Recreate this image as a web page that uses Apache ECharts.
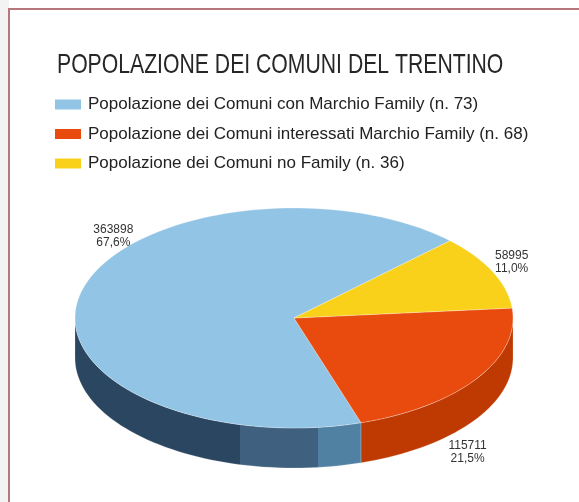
<!DOCTYPE html>
<html>
<head>
<meta charset="utf-8">
<script src="https://cdn.jsdelivr.net/npm/echarts@6/dist/echarts.min.js"></script>
<style>
  html, body { margin: 0; padding: 0; background: #fff; }
  #main { width: 579px; height: 502px; }
</style>
</head>
<body>
<div id="main"></div>
<script>
var titleText = 'POPOLAZIONE DEI COMUNI DEL TRENTINO';
var categories = [
  'Popolazione dei Comuni con Marchio Family (n. 73)',
  'Popolazione dei Comuni interessati Marchio Family (n. 68)',
  'Popolazione dei Comuni no Family (n. 36)'
];
var values = [363898, 115711, 58995];

var colors = ['#92c4e6', '#e94b0e', '#f9d11b'];
var sideColors = [
  {
    type: 'linear', x: 75, y: 0, x2: 362, y2: 0, global: true,
    colorStops: [
      { offset: 0, color: '#2a4661' }, { offset: 0.575, color: '#2a4661' },
      { offset: 0.575, color: '#3f617f' }, { offset: 0.847, color: '#3f617f' },
      { offset: 0.847, color: '#5081a3' }, { offset: 1, color: '#5081a3' }
    ]
  },
  '#bf3a02',
  '#c9a10f'
];
// spostamento delle etichette rispetto al bordo della fetta
var labelShift = [[32, -56], [-9, 73], [19, -10]];

var total = values.reduce(function (s, v) { return s + v; }, 0);
var startAngle = 44.6;
var cx = 294, cy = 318, rx = 219, ry = 110, depth = 40;

function pt(a, dy) {
  var r = a * Math.PI / 180;
  return [cx + rx * Math.cos(r), cy - ry * Math.sin(r) + dy];
}

function arc(a0, a1, dy) {
  var pts = [];
  var n = Math.max(2, Math.ceil(Math.abs(a1 - a0) / 2));
  for (var k = 0; k <= n; k++) {
    pts.push(pt(a0 + (a1 - a0) * k / n, dy));
  }
  return pts;
}

function renderSlice(params, api) {
  var i = params.seriesIndex;
  var before = 0;
  for (var j = 0; j < i; j++) before += values[j];
  var v = api.value(0);
  var a0 = startAngle + before / total * 360;
  var a1 = a0 + v / total * 360;
  var children = [];

  // faccia superiore
  children.push({
    type: 'polygon',
    z2: 10,
    shape: { points: [[cx, cy]].concat(arc(a0, a1, 0)) },
    style: { fill: colors[i], stroke: 'rgba(255,255,255,0.35)', lineWidth: 0.8 }
  });

  // lato visibile (metà anteriore)
  [[180, 360], [540, 720]].forEach(function (rg) {
    var s = Math.max(a0, rg[0]), e = Math.min(a1, rg[1]);
    if (e > s) {
      var top = arc(s, e, 0);
      var bottom = arc(e, s, depth);
      children.push({
        type: 'polygon',
        z2: 1,
        shape: { points: top.concat(bottom) },
        style: { fill: sideColors[i], stroke: 'rgba(255,255,255,0.25)', lineWidth: 0.8 }
      });
    }
  });

  // etichetta
  var mid = (a0 + a1) / 2;
  var p = pt(mid, 0);
  var pct = (v / total * 100).toFixed(1).replace('.', ',');
  children.push({
    type: 'text',
    z2: 20,
    x: p[0] + labelShift[i][0],
    y: p[1] + labelShift[i][1],
    style: {
      text: v + '\n' + pct + '%',
      fill: '#333',
      font: '12px "Liberation Sans", Arial, sans-serif',
      lineHeight: 13,
      align: 'center',
      verticalAlign: 'middle'
    }
  });

  return { type: 'group', children: children };
}

var chart = echarts.init(document.getElementById('main'));

var series = categories.map(function (name, i) {
  return {
    type: 'custom',
    name: name,
    coordinateSystem: 'none',
    itemStyle: { color: colors[i] },
    silent: true,
    renderItem: renderSlice,
    data: [[values[i]]]
  };
});

chart.setOption({
  backgroundColor: '#fff',
  animation: false,
  legend: {
    data: categories,
    orient: 'vertical',
    left: 55,
    top: 96,
    padding: 0,
    icon: 'rect',
    itemWidth: 26,
    itemHeight: 10,
    itemGap: 12.5,
    selectedMode: false,
    textStyle: {
      fontFamily: '"Liberation Sans", Arial, sans-serif',
      fontSize: 17,
      color: '#222',
      padding: [0, 0, 0, 2]
    }
  },
  graphic: [
    { type: 'rect', z: -1, shape: { x: 0, y: 0, width: 9, height: 502 }, style: { fill: '#f3f3f3' } },
    { type: 'rect', z: 0, shape: { x: 9, y: 9, width: 620, height: 520 },
      style: { fill: 'none', stroke: '#b5777b', lineWidth: 2 } },
    // titolo in carattere stretto
    { type: 'text', z: 5, x: 57, y: 65.5, scaleX: 0.757,
      style: {
        text: titleText,
        font: '28px "Liberation Sans", Arial, sans-serif',
        fill: '#262626',
        verticalAlign: 'middle'
      } }
  ],
  series: series
});
</script>
</body>
</html>
